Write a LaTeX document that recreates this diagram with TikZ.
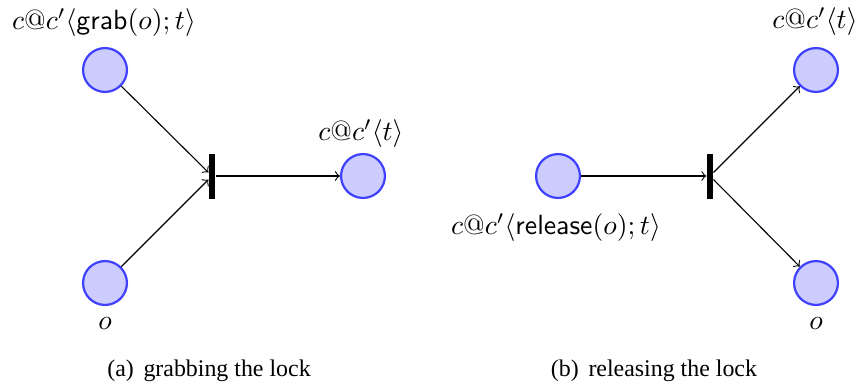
\documentclass[tikz,border=0pt]{standalone}
\usepackage{fontspec}
\newfontfamily\capfont{Liberation Serif}
\begin{document}
\begin{tikzpicture}[x=0.36pt,y=-0.36pt,
  place/.style={circle,thick,draw=blue!75,fill=blue!20,minimum size=15.8pt,inner sep=0pt},
  bar/.style={rectangle,fill=black,minimum width=2.16pt,minimum height=16.2pt,inner sep=0pt},
  lbl/.style={inner sep=0pt},
  arc/.style={->,thin},
  captext/.style={font=\capfont\fontsize{8.6}{10.5}\selectfont,anchor=base,inner sep=0pt}]
\useasboundingbox (0,0) rectangle (862,387);
% (a) grabbing the lock
\node[place] (p1) at (105,70) {};
\node[place] (p2) at (105,283) {};
\node[bar] (t1) at (212,176) {};
\node[place] (p3) at (363,176) {};
\node[lbl] (l1) at (104,23) {$c@c'\langle\mathsf{grab}(o);t\rangle$};
\node[lbl] (l2) at (361,134) {$c@c'\langle t\rangle$};
\node[lbl] (l3) at (105,324) {$o$};
\draw[arc] (p1) -- (t1);
\draw[arc] (p2) -- (t1);
\draw[arc] (t1) -- (p3);
% (b) releasing the lock
\node[place] (p4) at (558,176) {};
\node[bar] (t2) at (710,176) {};
\node[place] (p5) at (816,70) {};
\node[place] (p6) at (816,283) {};
\node[lbl] (l4) at (556,228) {$c@c'\langle\mathsf{release}(o);t\rangle$};
\node[lbl] (l5) at (815,22) {$c@c'\langle t\rangle$};
\node[lbl] (l6) at (816,324) {$o$};
\draw[arc] (p4) -- (t2);
\draw[arc] (t2) -- (p5);
\draw[arc] (t2) -- (p6);
% captions
\node[captext] (ca) at (209,376) {(a)\hspace{3.5pt}grabbing the lock};
\node[captext] (cb) at (654,376) {(b)\hspace{3.5pt}releasing the lock};
\end{tikzpicture}
\end{document}
